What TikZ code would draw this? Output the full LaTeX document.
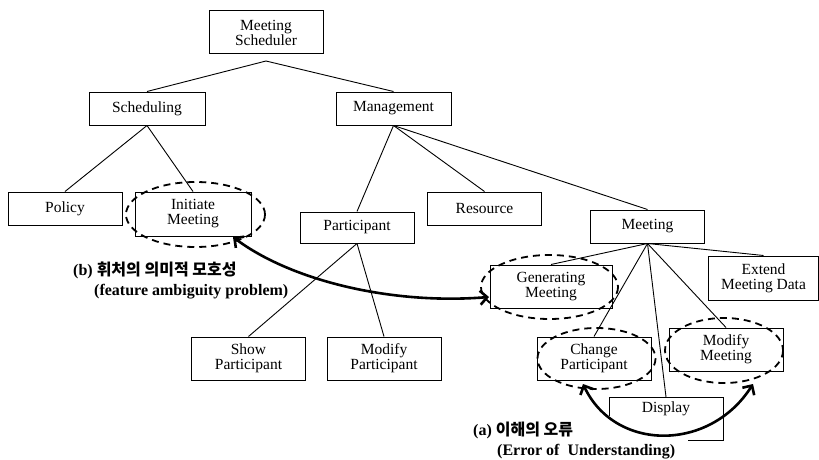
\documentclass[tikz,border=0pt]{standalone}
\usepackage{fontspec}
\setmainfont{Liberation Serif}
\newfontfamily\krfont{Noto Sans CJK KR}
\usetikzlibrary{arrows.meta}
\begin{document}
\begin{tikzpicture}[x=1pt,y=-1pt,
  fbox/.style={draw, line width=1pt, align=center, inner sep=0pt, fill=white,
    font=\fontsize{15.5}{15}\selectfont},
  small/.style={fbox, minimum width=114pt, minimum height=33pt},
  tall/.style={fbox, minimum width=114pt, minimum height=43pt},
  link/.style={line width=0.9pt},
  amb/.style={draw, dashed, dash pattern=on 7pt off 5pt, line width=1.8pt},
  bigarrow/.style={line width=2.6pt, {Straight Barb[length=7pt,width=14pt]}-{Straight Barb[length=7pt,width=14pt]}},
  lbl/.style={anchor=west, inner sep=0pt, font=\bfseries\fontsize{16}{16}\selectfont}
]
\useasboundingbox (0,0) rectangle (819,460);

% nodes
\node[tall, minimum height=43pt] (ms) at (266,32.5) {Meeting\\Scheduler};
\node[small, minimum width=116pt] (sch) at (147,108.5) {Scheduling};
\node[small, minimum width=115pt] (mgmt) at (393.5,108.5) {Management};
\node[small] (pol) at (65,208.5) {Policy};
\node[tall, minimum width=116pt, minimum height=44pt] (init) at (193,214) {Initiate\\Meeting};
\node[small, minimum height=31pt] (part) at (357,227.5) {Participant};
\node[small] (res) at (484.5,208.5) {Resource};
\node[small] (mtg) at (647.5,226.5) {Meeting};
\node[tall, minimum width=122pt] (gen) at (551,286.5) {Generating\\Meeting};
\node[tall, minimum width=110pt, minimum height=44pt] (ext) at (763.5,278) {Extend\\Meeting Data};
\node[tall] (chg) at (594,358.5) {Change\\Participant};
\node[tall] (modm) at (726,349.5) {Modify\\Meeting};
\node[tall, anchor=north] (disp) at (666,397) {Display\\[8pt]};
\node[tall] (showp) at (248.5,358.5) {Show\\Participant};
\node[tall] (modp) at (384,358.5) {Modify\\Participant};

% tree connectors
\coordinate (msb) at (266,61);
\draw[link] (msb) -- (sch.north);
\draw[link] (msb) -- (mgmt.north);
\draw[link] (sch.south) -- (pol.north);
\draw[link] (sch.south) -- (init.north);
\draw[link] (mgmt.south) -- (part.north);
\draw[link] (mgmt.south) -- (res.north);
\draw[link] (mgmt.south) -- (mtg.north);
\draw[link] (part.south) -- (showp.north);
\draw[link] (part.south) -- (modp.north);
\draw[link] (mtg.south) -- (gen.north);
\draw[link] (mtg.south) -- (ext.north);
\draw[link] (mtg.south) -- (chg.north);
\draw[link] (mtg.south) -- (disp.north);
\draw[link] (mtg.south) -- (modm.north);

% dashed ellipses
\draw[amb] (195.5,214.5) ellipse [x radius=69.5, y radius=32.5];
\draw[amb] (549.5,287) ellipse [x radius=68.5, y radius=32];
\draw[amb] (596.5,358.5) ellipse [x radius=59, y radius=30.5];
\draw[amb] (724,350.5) ellipse [x radius=59, y radius=32.5];

% white patch hiding lower part of Display
\fill[white] (604,416) rectangle (688,446);

% labels
\node[lbl] (lb1) at (73,270) {(b) {\krfont 휘처의 의미적 모호성}};
\node[lbl] (lb2) at (94,292) {(feature ambiguity problem)};
\node[lbl] (la1) at (473,430) {(a) {\krfont 이해의 오류}};
\node[lbl] (la2) at (497,452) {(Error of\ \ Understanding)};

% curved arrows
\coordinate (bA) at (233,237);
\coordinate (bB) at (489,297);
\draw[bigarrow] (bA) .. controls (290,280) and (390,305) .. (bB);
\coordinate (aA) at (583,384);
\coordinate (aB) at (753,384);
\draw[bigarrow] (aA) .. controls (615,452) and (710,452) .. (aB);
\end{tikzpicture}
\end{document}
